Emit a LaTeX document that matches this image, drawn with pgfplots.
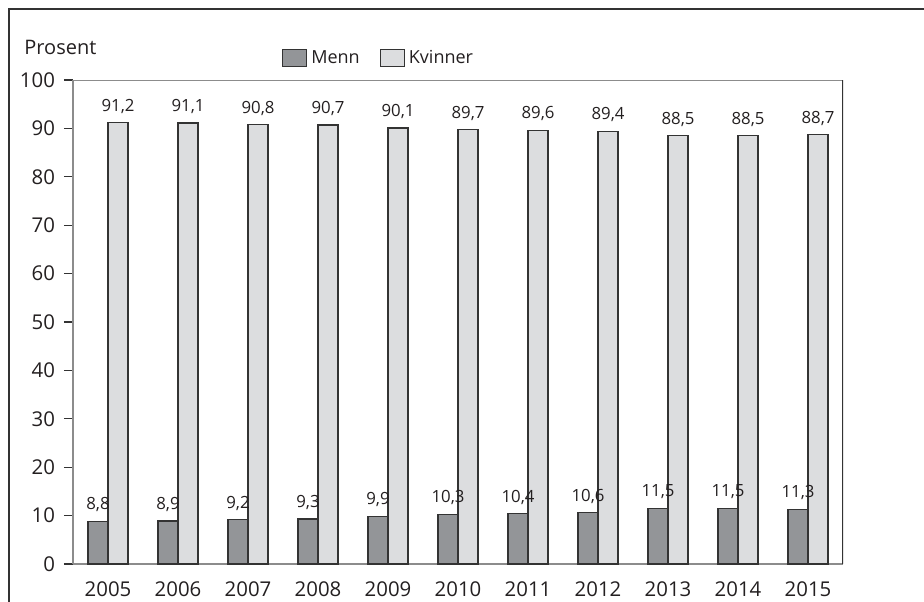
\documentclass[border=0pt]{standalone}
\usepackage{pgfplots}
\pgfplotsset{compat=1.18}
\usepackage{fontspec}
\setmainfont{Open Sans}
\definecolor{menn}{HTML}{939598}
\definecolor{kvinner}{HTML}{DCDDDF}
\definecolor{edge}{HTML}{333333}
\definecolor{txt}{HTML}{231F20}
\definecolor{axgray}{HTML}{8C8C8C}
\begin{document}
\begin{tikzpicture}
\path[use as bounding box] (0pt,0pt) rectangle (462pt,-300.5pt);
\draw[edge, line width=1.2pt] (4.5pt,-320pt) -- (4.5pt,-4.5pt) -- (480pt,-4.5pt);
\begin{axis}[
  at={(36.5pt,-40pt)}, anchor=north west,
  scale only axis, width=385pt, height=242pt,
  ybar=0pt, bar width=10pt,
  xmin=-0.5, xmax=10.5, ymin=0, ymax=100,
  ytick={0,10,...,100},
  xtick={0,...,10},
  xticklabels={2005,2006,2007,2008,2009,2010,2011,2012,2013,2014,2015},
  axis x line*=bottom, axis y line*=left,
  axis line style={axgray, line width=0.8pt, -},
  x tick style={draw=none},
  y tick style={edge, line width=0.6pt},
  tick align=outside,
  major tick length=4.5pt,
  tick label style={font=\fontsize{10.2}{11}\selectfont, text=txt},
  yticklabel style={xshift=-1pt},
  xticklabel style={yshift=-1pt},
  /pgf/number format/assume math mode=true,
  nodes near coords,
  nodes near coords style={font=\fontsize{8.4}{9}\selectfont, text=txt, yshift=1pt,
    /pgf/number format/fixed, /pgf/number format/fixed zerofill,
    /pgf/number format/precision=1, /pgf/number format/use comma,
    /pgf/number format/assume math mode=true},
  legend columns=2,
  legend style={at={(axis description cs:0.271,1.045)}, anchor=west, draw=none, fill=none,
    font=\fontsize{9}{10}\selectfont, text=txt, inner sep=0pt,
    /tikz/every even column/.append style={column sep=8pt}},
  legend image code/.code={\draw[#1] (0pt,-4.25pt) rectangle (12pt,4.25pt);},
]
\addplot[fill=menn, draw=edge, line width=0.6pt] coordinates {
(0,8.8) (1,8.9) (2,9.2) (3,9.3) (4,9.9) (5,10.3) (6,10.4) (7,10.6) (8,11.5) (9,11.5) (10,11.3)};
\addlegendentry{Menn}
\addplot[fill=kvinner, draw=edge, line width=0.6pt] coordinates {
(0,91.2) (1,91.1) (2,90.8) (3,90.7) (4,90.1) (5,89.7) (6,89.6) (7,89.4) (8,88.5) (9,88.5) (10,88.7)};
\addlegendentry{Kvinner}
\draw[axgray, line width=0.8pt] (rel axis cs:0,1) -- (rel axis cs:1,1);
\draw[edge, line width=0.8pt] (rel axis cs:1,0) -- (rel axis cs:1,1);
\end{axis}
\node[anchor=west, font=\fontsize{10}{11}\selectfont, text=txt, inner sep=0pt] at (12pt,-23.5pt) {Prosent};
\end{tikzpicture}
\end{document}
